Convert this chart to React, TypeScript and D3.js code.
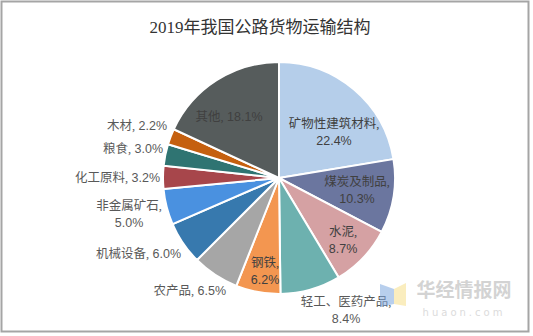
import React from "react";
import * as d3 from "d3";

const categories = ["矿物性建筑材料", "煤炭及制品", "水泥", "轻工、医药产品", "钢铁", "农产品", "机械设备", "非金属矿石", "化工原料", "粮食", "木材", "其他"];
const values = [22.4, 10.3, 8.7, 8.4, 6.2, 6.5, 6.0, 5.0, 3.2, 3.0, 2.2, 18.1];
const colors = ["#B5CEEA", "#6B769F", "#D5A1A3", "#6DB1AF", "#F39650", "#A6A6A6", "#3779AE", "#4A91E0", "#A7464B", "#2F7472", "#C5600F", "#565C5C"];
// label layout: one line or two lines, inside or outside the pie
const labelModes = ["in2", "in2", "in2", "out2", "in2", "out1", "out1", "out2", "out1", "out1", "out1", "in1"];
const title = "2019年我国公路货物运输结构";

const W = 533, H = 336;
const cx = 279, cy = 178, R = 116;

// label centres (first line) and anchors
const labelPos: { x: number; y: number; anchor: string }[] = [
  { x: 334, y: 123, anchor: "middle" },
  { x: 357, y: 181, anchor: "middle" },
  { x: 343, y: 231, anchor: "middle" },
  { x: 346, y: 301, anchor: "middle" },
  { x: 265, y: 262, anchor: "middle" },
  { x: 226, y: 290, anchor: "end" },
  { x: 181, y: 253, anchor: "end" },
  { x: 129, y: 205, anchor: "middle" },
  { x: 160, y: 177, anchor: "end" },
  { x: 163, y: 148, anchor: "end" },
  { x: 167, y: 125, anchor: "end" },
  { x: 229, y: 116, anchor: "middle" },
];

export default function App() {
  const pie = d3.pie<number>().sort(null).value(d => d)(values);
  const arc = d3.arc<d3.PieArcDatum<number>>().innerRadius(0).outerRadius(R);
  const font = "'Liberation Serif','Noto Sans CJK SC',serif";
  const numFont = "'Liberation Sans','Noto Sans CJK SC',sans-serif";

  return (
    <svg width={W} height={H} style={{ position: "absolute", left: 0, top: 0 }}>
      <rect x={0} y={0} width={W} height={H} fill="#fff" />
      <rect x={1.5} y={1.5} width={527} height={330} fill="#fff" stroke="#A5A5A5" strokeWidth={2} />
      <text x={260} y={33} textAnchor="middle" fontFamily={font} fontSize={17} fill="#333">{title}</text>
      <g>
        {pie.map((p, i) => (
          <path key={i} d={arc(p) || ""} transform={`translate(${cx},${cy})`} fill={colors[i]} stroke="#fff" strokeWidth={2} />
        ))}
      </g>
      {pie.map((p, i) => {
        const mode = labelModes[i];
        const o = labelPos[i];
        const pct = values[i].toFixed(1) + "%";
        const cat = categories[i];
        const inside = mode.startsWith("in");
        const fill = inside ? "#404040" : "#595959";
        if (mode.endsWith("1")) {
          return (
            <text key={i} x={o.x} y={o.y + 4.5} textAnchor={o.anchor} fontSize={12.5} fill={fill}>
              <tspan fontFamily={font}>{cat},</tspan><tspan fontFamily={numFont}> {pct}</tspan>
            </text>
          );
        }
        return (
          <text key={i} textAnchor={o.anchor} fontSize={12.5} fill={fill}>
            <tspan x={o.x} y={o.y + 4.5} fontFamily={font}>{cat},</tspan>
            <tspan x={o.x} y={o.y + 21.5} fontFamily={numFont}>{pct}</tspan>
          </text>
        );
      })}
      <g opacity={0.55}>
        <path d="M380,284 L394,289 L394,304 L380,307 Z" fill="#7FA8E0" />
        <path d="M394,289 L406,283 L406,306 L394,304 Z" fill="#F7E08A" />
        <text x={464} y={297} textAnchor="middle" fontFamily="'Noto Sans CJK SC',sans-serif" fontSize={19} fontWeight={700} fill="#B0B0B0">华经情报网</text>
        <text x={464} y={316} textAnchor="middle" fontFamily="'DejaVu Sans',sans-serif" fontSize={10} letterSpacing={3} fill="#C0C0C0">huaon.com</text>
      </g>
    </svg>
  );
}
